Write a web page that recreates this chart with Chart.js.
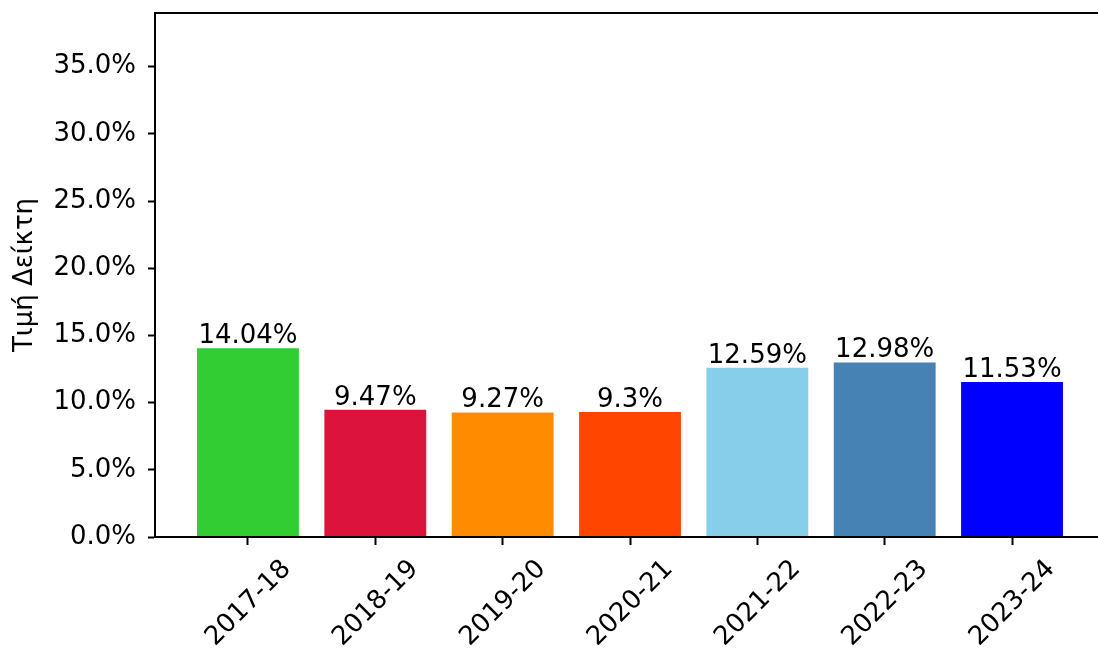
<!DOCTYPE html>
<html>
<head>
<meta charset="utf-8">
<script src="https://cdn.jsdelivr.net/npm/chart.js@4"></script>
<style>
  html, body { margin: 0; padding: 0; background: #fff; overflow: hidden; }
  #wrap { width: 1120px; height: 651px; }
</style>
</head>
<body>
<div id="wrap"><canvas id="chart"></canvas></div>
<script>
const years = ['2017-18', '2018-19', '2019-20', '2020-21', '2021-22', '2022-23', '2023-24'];
const values = [14.04, 9.47, 9.27, 9.3, 12.59, 12.98, 11.53];
const barColors = ['#32CD32', '#DC143C', '#FF8C00', '#FF4500', '#87CEEB', '#4682B4', '#0000FF'];
const yTicks = [0, 5, 10, 15, 20, 25, 30, 35];

const FONT = "'DejaVu Sans', sans-serif";

// value labels above bars + frame round the plot area
const extras = {
  id: 'extras',
  afterDatasetsDraw(chart) {
    const ctx = chart.ctx;
    const meta = chart.getDatasetMeta(0);
    ctx.save();
    ctx.fillStyle = '#000';
    ctx.font = '26px ' + FONT;
    ctx.textAlign = 'center';
    ctx.textBaseline = 'bottom';
    meta.data.forEach((bar, i) => {
      ctx.fillText(values[i] + '%', bar.x, bar.y + 1);
    });
    const a = chart.chartArea;
    ctx.strokeStyle = '#000';
    ctx.lineWidth = 2;
    ctx.strokeRect(a.left, a.top, a.right - a.left, a.bottom - a.top);
    ctx.restore();
  }
};

new Chart(document.getElementById('chart'), {
  type: 'bar',
  data: {
    datasets: [{
      data: values.map((v, i) => ({ x: i, y: v })),
      backgroundColor: barColors,
      borderWidth: 0,
      categoryPercentage: 1,
      barPercentage: 0.8
    }]
  },
  options: {
    responsive: true,
    maintainAspectRatio: false,
    animation: false,
    layout: { padding: { top: 13, right: 15, left: 0, bottom: 0 } },
    plugins: { legend: { display: false }, tooltip: { enabled: false } },
    scales: {
      x: {
        type: 'linear',
        offset: false,
        min: -0.73,
        max: 6.73,
        afterBuildTicks: s => { s.ticks = years.map((_, i) => ({ value: i })); },
        afterFit: s => { s.height = 114; s.paddingLeft = 0; s.paddingRight = 0; },
        grid: { drawOnChartArea: false, offset: false, tickLength: 8, tickColor: '#000', tickWidth: 2 },
        border: { color: '#000', width: 2 },
        ticks: {
          color: '#000',
          font: { family: FONT, size: 26 },
          minRotation: 45,
          maxRotation: 45,
          labelOffset: 39,
          padding: 9,
          callback: v => years[v]
        }
      },
      y: {
        min: 0,
        max: 39,
        afterBuildTicks: s => { s.ticks = yTicks.map(v => ({ value: v })); },
        afterFit: s => { s.width = 155; s.paddingTop = 0; s.paddingBottom = 0; },
        grid: { drawOnChartArea: false, tickLength: 7, tickColor: '#000', tickWidth: 2 },
        border: { color: '#000', width: 2 },
        title: {
          display: true,
          text: 'Τιμή Δείκτη',
          color: '#000',
          font: { family: FONT, size: 26 },
          padding: { top: 10, bottom: 0 }
        },
        ticks: {
          color: '#000',
          font: { family: FONT, size: 26 },
          padding: 12,
          callback: v => v.toFixed(1) + '%'
        }
      }
    }
  },
  plugins: [extras]
});
</script>
</body>
</html>
